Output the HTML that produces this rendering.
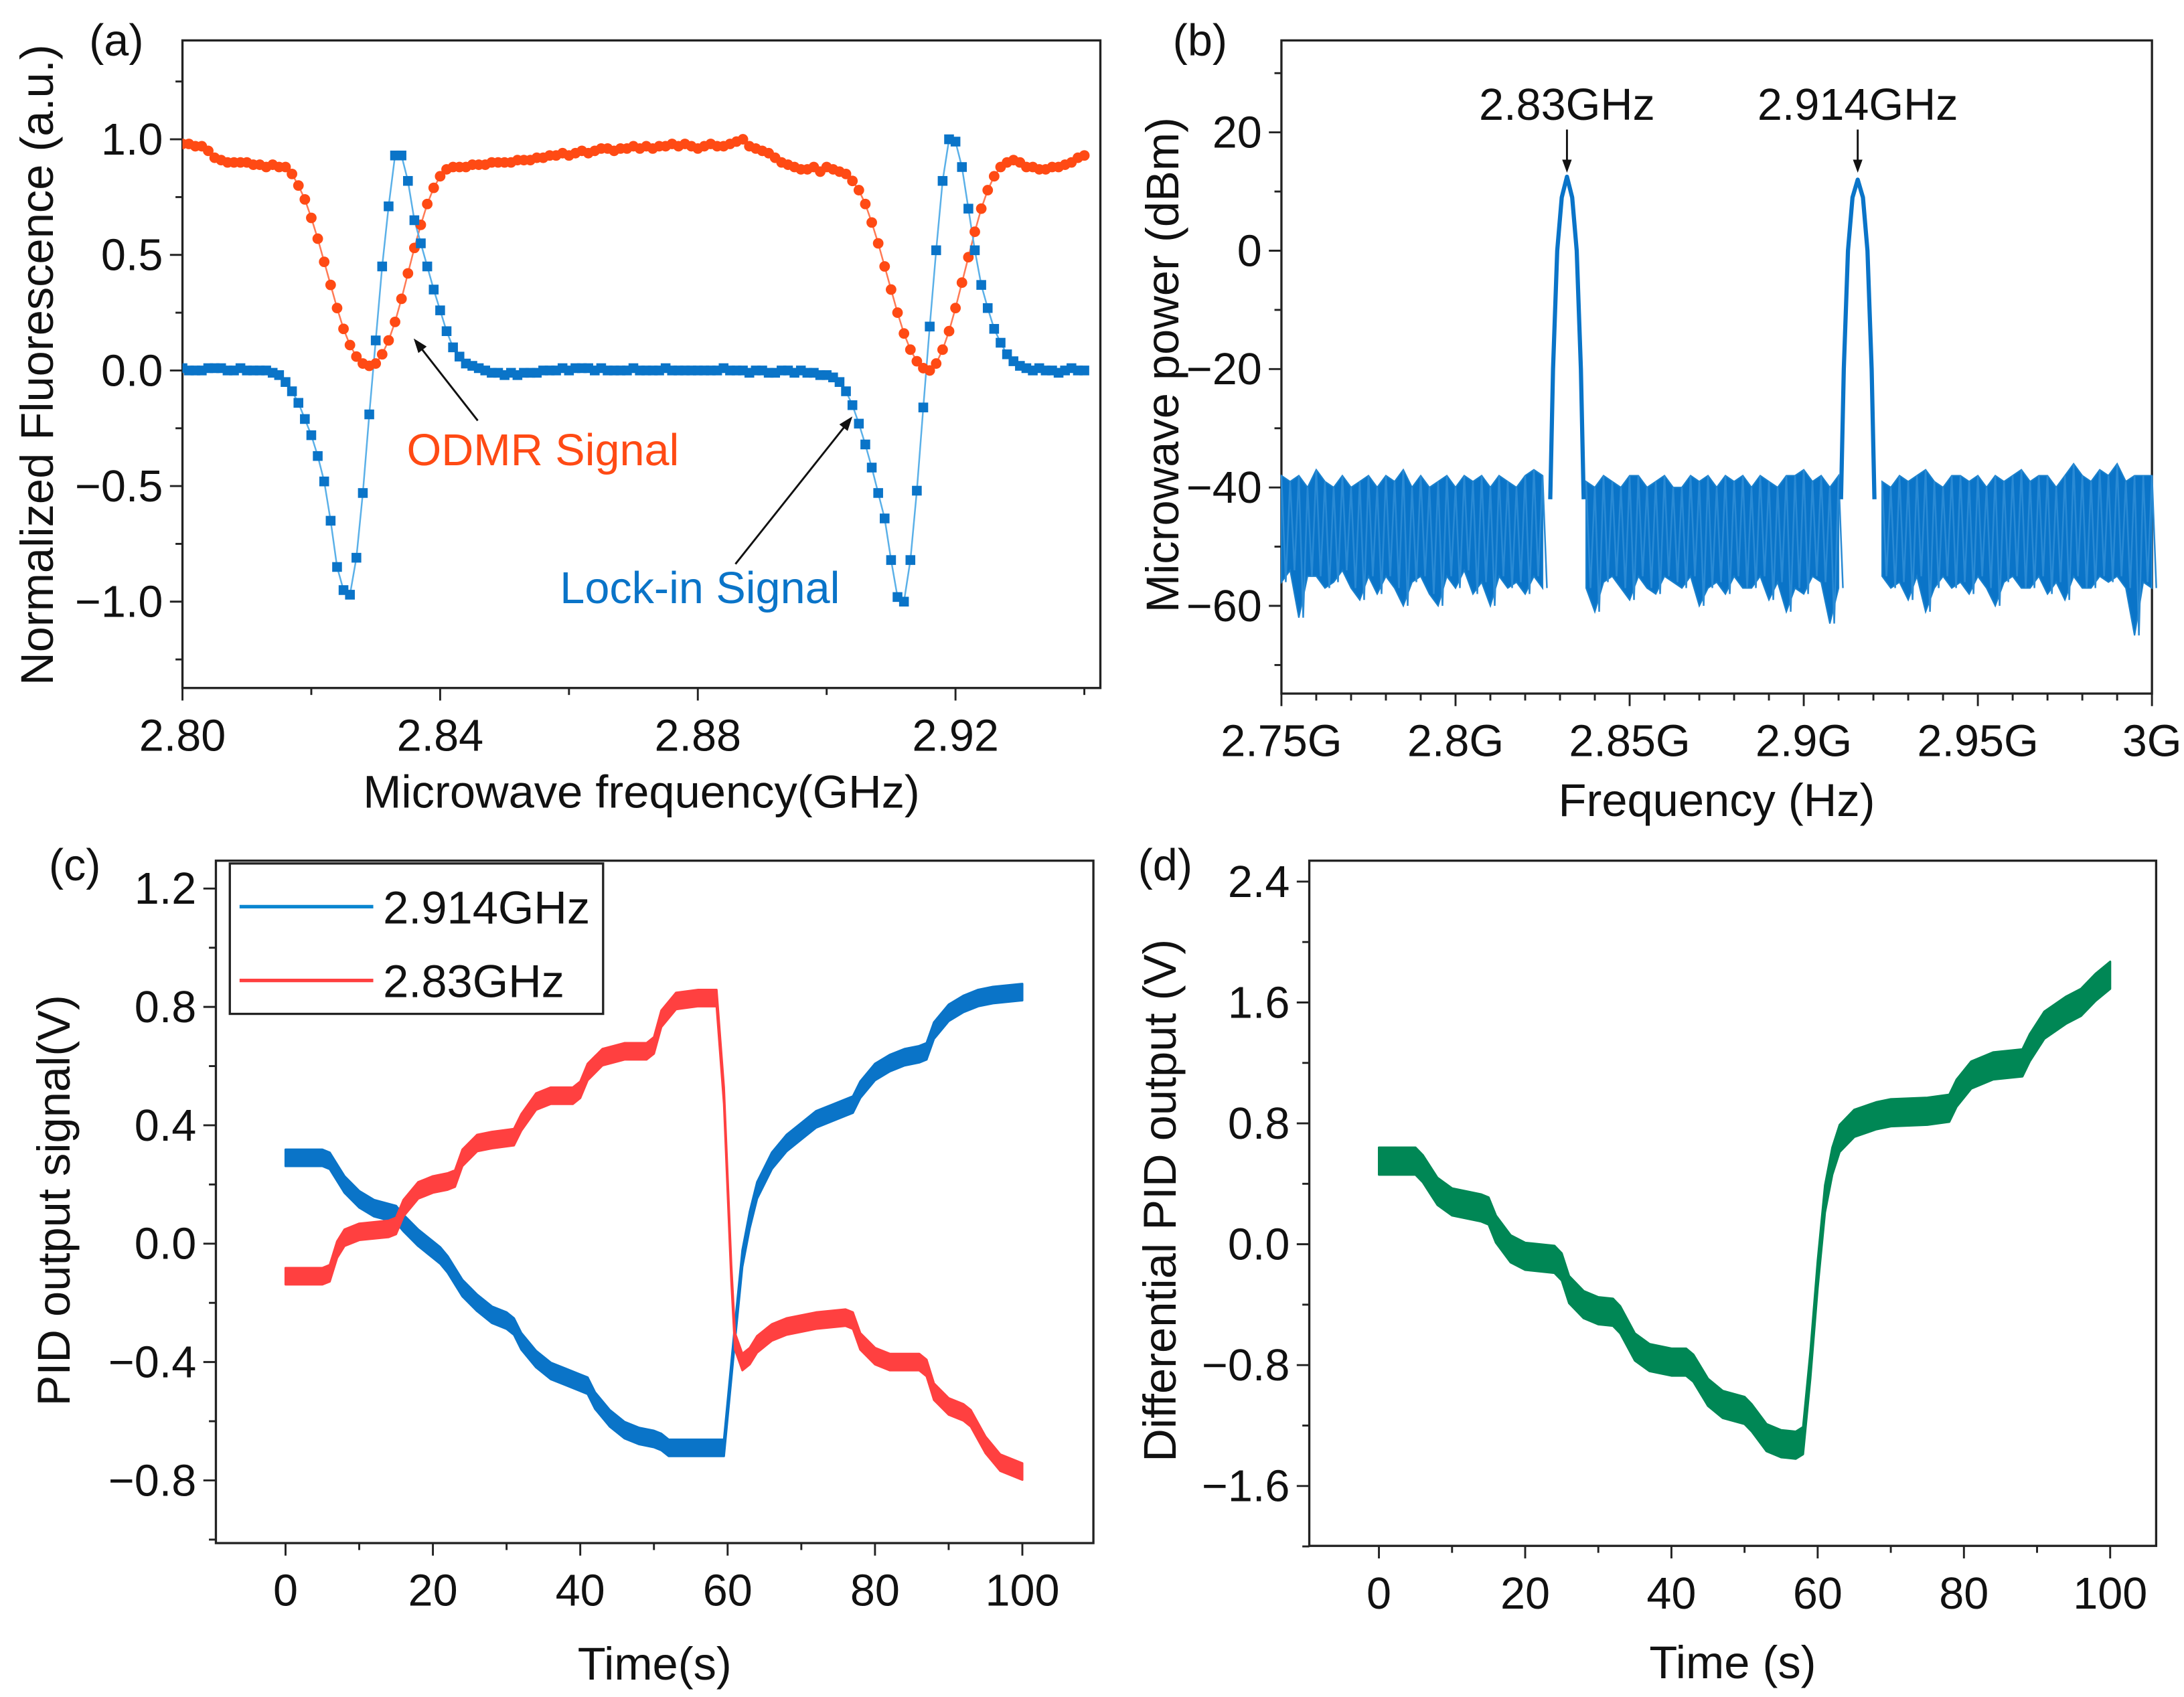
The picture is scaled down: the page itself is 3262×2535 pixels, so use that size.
<!DOCTYPE html>
<html><head><meta charset="utf-8"><style>
html,body{margin:0;padding:0;background:#fff}
svg{display:block;font-family:"Liberation Sans",sans-serif}
</style></head><body>
<svg id="fig" xmlns="http://www.w3.org/2000/svg" width="3262" height="2535" viewBox="0 0 1568 1218.5">
<rect x="0" y="0" width="1568" height="1218.5" fill="#fff"/>
</svg>
<script>
// ---------- Panel (a) data ----------
const freqAStart = 2.800, freqAStep = 0.001;
const odmrValues = [
0.98,0.98,0.97,0.97,0.95,0.92,0.91,0.90,0.90,0.90,
0.90,0.89,0.89,0.88,0.89,0.88,0.88,0.85,0.80,0.74,
0.66,0.57,0.47,0.37,0.27,0.18,0.11,0.06,0.03,0.02,
0.03,0.07,0.13,0.21,0.31,0.42,0.53,0.63,0.72,0.79,
0.84,0.87,0.88,0.88,0.88,0.89,0.89,0.89,0.90,0.90,
0.90,0.90,0.91,0.91,0.91,0.92,0.92,0.93,0.93,0.94,
0.93,0.94,0.95,0.94,0.95,0.96,0.96,0.95,0.96,0.96,
0.97,0.96,0.97,0.96,0.97,0.97,0.98,0.97,0.98,0.97,
0.96,0.97,0.98,0.97,0.97,0.98,0.99,1.00,0.97,0.96,
0.95,0.94,0.92,0.90,0.89,0.88,0.87,0.87,0.88,0.86,
0.88,0.87,0.86,0.85,0.82,0.78,0.72,0.64,0.55,0.45,
0.35,0.25,0.16,0.09,0.04,0.01,0.00,0.03,0.09,0.17,
0.27,0.38,0.49,0.60,0.70,0.78,0.84,0.88,0.90,0.91,
0.90,0.88,0.88,0.87,0.87,0.88,0.88,0.89,0.90,0.92,
0.93];
const lockinValues = [
0.01,0.00,0.00,0.00,0.01,0.01,0.01,0.00,0.00,0.01,
0.00,0.00,0.00,0.00,-0.01,-0.02,-0.05,-0.09,-0.14,-0.21,
-0.28,-0.37,-0.48,-0.65,-0.85,-0.95,-0.97,-0.81,-0.53,-0.19,
0.13,0.45,0.71,0.93,0.93,0.82,0.65,0.55,0.45,0.35,
0.26,0.17,0.10,0.06,0.03,0.02,0.01,0.00,-0.01,-0.01,
-0.02,-0.01,-0.02,-0.01,-0.01,-0.01,0.00,0.00,0.00,0.01,
0.00,0.01,0.01,0.01,0.00,0.01,0.00,0.00,0.00,0.00,
0.01,0.00,0.00,0.00,0.00,0.01,0.00,0.00,0.00,0.00,
0.00,0.00,0.00,0.00,0.01,0.00,0.00,0.00,-0.01,0.00,
0.00,-0.01,-0.01,0.00,0.00,-0.01,0.00,-0.01,-0.01,-0.02,
-0.02,-0.03,-0.05,-0.09,-0.15,-0.23,-0.32,-0.42,-0.53,-0.64,
-0.82,-0.98,-1.00,-0.82,-0.52,-0.16,0.19,0.52,0.82,1.00,
0.99,0.88,0.70,0.52,0.37,0.27,0.18,0.12,0.07,0.04,
0.02,0.01,0.00,0.01,0.00,0.00,-0.01,0.00,0.01,0.00,
0.00];
const ticksAX = [2.80,2.84,2.88,2.92];
const ticksAXLabels = ["2.80","2.84","2.88","2.92"];
const ticksAY = [1.0,0.5,0.0,-0.5,-1.0];
const ticksAYLabels = ["1.0","0.5","0.0","\u22120.5","\u22121.0"];

// ---------- Panel (b) data ----------
const noiseStart = 2.75, noiseStep = 0.0025;
const noiseTop = [
-38,-39,-38,-40,-37,-39,-40,-38,-40,-39,-38,-40,-38,-39,-37,-40,-38,-40,-39,-38,
-40,-38,-39,-38,-40,-38,-39,-40,-38,-37,-38,-40,-39,-38,-38,-39,-40,-38,-39,-40,
-38,-38,-40,-39,-38,-40,-40,-38,-39,-38,-40,-38,-39,-38,-40,-38,-39,-40,-38,-38,
-37,-39,-38,-40,-38,-38,-39,-40,-38,-39,-40,-38,-39,-38,-37,-39,-40,-38,-38,-39,
-38,-40,-38,-39,-38,-37,-39,-38,-38,-40,-38,-36,-38,-39,-37,-38,-36,-39,-38,-38,-38];
const noiseBottom = [
-56,-54,-62,-55,-55,-57,-56,-54,-57,-59,-55,-58,-55,-57,-60,-56,-55,-58,-60,-55,
-57,-54,-58,-56,-60,-55,-57,-56,-58,-55,-57,-55,-56,-55,-58,-57,-61,-56,-55,-57,
-59,-55,-57,-58,-55,-56,-57,-55,-60,-57,-56,-58,-55,-57,-57,-55,-59,-56,-61,-57,
-58,-55,-56,-63,-57,-55,-57,-56,-58,-55,-57,-56,-59,-55,-61,-57,-55,-57,-56,-58,
-55,-57,-60,-56,-55,-57,-57,-55,-58,-56,-59,-55,-57,-57,-55,-56,-55,-57,-65,-56,-57];
const peakCenters = [2.832, 2.9155];
const peakOffsets = [-0.0048,-0.004,-0.0028,-0.0015,0,0.0015,0.0028,0.004,0.0048];
const peak1Vals = [-42,-20,0,9,12.5,9,0,-20,-42];
const peak2Vals = [-42,-20,0,9,12,9,0,-20,-42];
const ticksBX = [2.75,2.80,2.85,2.90,2.95,3.00];
const ticksBXLabels = ["2.75G","2.8G","2.85G","2.9G","2.95G","3G"];
const ticksBY = [20,0,-20,-40,-60];
const ticksBYLabels = ["20","0","\u221220","\u221240","\u221260"];

// ---------- Panel (c) data ----------
const timeBlue = [0,5,6,8,10,12,15,16,18,20,21,22,24,26,28,30,31,32,34,36,38,40,41,42,44,46,48,50,51,52,55,59.5,61,62,63,64,66,68,70,72,74,76,77,78,80,82,84,86,87,88,90,92,94,96,100];
const valBlue = [0.29,0.29,0.28,0.20,0.15,0.12,0.10,0.07,0.02,-0.02,-0.04,-0.07,-0.15,-0.20,-0.24,-0.26,-0.28,-0.33,-0.39,-0.43,-0.45,-0.47,-0.48,-0.53,-0.59,-0.63,-0.65,-0.66,-0.67,-0.69,-0.69,-0.69,-0.30,-0.05,0.08,0.18,0.28,0.34,0.38,0.42,0.44,0.46,0.47,0.52,0.58,0.61,0.63,0.64,0.65,0.72,0.78,0.81,0.83,0.84,0.85];
const timeRed = [0,5,6,7,8,10,14,15,16,18,20,22,23,24,26,28,31,32,34,36,39,40,41,43,46,49,50,51,53,56,58.5,59.5,60.5,61,62,63,64,66,68,72,76,77,78,80,82,86,87,88,90,92,93,95,97,100];
const valRed = [-0.11,-0.11,-0.10,-0.02,0.02,0.04,0.05,0.06,0.12,0.18,0.20,0.21,0.22,0.29,0.34,0.35,0.36,0.41,0.48,0.50,0.50,0.52,0.58,0.63,0.65,0.65,0.67,0.76,0.82,0.83,0.83,0.50,-0.10,-0.33,-0.40,-0.38,-0.34,-0.30,-0.28,-0.26,-0.25,-0.26,-0.33,-0.38,-0.40,-0.40,-0.42,-0.50,-0.55,-0.57,-0.59,-0.68,-0.74,-0.77];
const ticksCX = [0,20,40,60,80,100];
const ticksCY = [1.2,0.8,0.4,0.0,-0.4,-0.8];
const ticksCYLabels = ["1.2","0.8","0.4","0.0","\u22120.4","\u22120.8"];

// ---------- Panel (d) data ----------
const timeGreen = [0,5,6,8,10,14,15,16,18,20,24,25,26,28,30,32,33,35,37,40,42,43,45,47,50,51,53,55,57,58,59,60,61,62,63,65,68,70,75,78,79,81,84,88,89,91,94,96,98,100];
const valGreen = [0.55,0.55,0.50,0.35,0.28,0.24,0.22,0.10,-0.03,-0.08,-0.10,-0.15,-0.30,-0.40,-0.44,-0.45,-0.50,-0.68,-0.75,-0.78,-0.78,-0.82,-0.98,-1.06,-1.10,-1.15,-1.28,-1.32,-1.33,-1.30,-0.80,-0.20,0.30,0.55,0.70,0.80,0.85,0.87,0.88,0.90,1.00,1.12,1.18,1.20,1.30,1.45,1.55,1.60,1.70,1.78];
const ticksDY = [2.4,1.6,0.8,0.0,-0.8,-1.6];
const ticksDYLabels = ["2.4","1.6","0.8","0.0","\u22120.8","\u22121.6"];

const NS = "http://www.w3.org/2000/svg";
const svg = document.getElementById('fig');
function mk(tag, attrs, parent){
  const e = document.createElementNS(NS, tag);
  for (const k in attrs) e.setAttribute(k, attrs[k]);
  (parent||svg).appendChild(e);
  return e;
}
function lin(d0,d1,r0,r1){ return v => r0 + (v-d0)/(d1-d0)*(r1-r0); }

function axes(p){
  const g = mk('g', {});
  
  
  const box = mk('rect', {x:p.l, y:p.t, width:p.r-p.l, height:p.b-p.t, fill:'none', stroke:'#222', 'stroke-width':1.6}, g);
  
  
  for (let v = p.xmin0; v <= p.xmax0 + 1e-9; v += p.xminor) {
    const x = p.sx(v);
    if (x < p.l - 0.5 || x > p.r + 0.5) continue;
    const major = p.xt.some(t => Math.abs(t - v) < p.xminor/10);
    const tk = mk('line', {x1:x, x2:x, y1:p.b, y2:p.b + (major?9:5), stroke:'#222', 'stroke-width':1.4}, g);
    
    
  }
  p.xt.forEach((v,i) => {
    const t = mk('text', {x:p.sx(v), y:p.b + 45, 'text-anchor':'middle', 'font-size':32, fill:'#111'}, g);
    t.textContent = p.xl[i];
    
    
  });
  for (let v = p.ymin0; v <= p.ymax0 + 1e-9; v += p.yminor) {
    const y = p.sy(v);
    if (y < p.t - 0.5 || y > p.b + 0.5) continue;
    const major = p.yt.some(t => Math.abs(t - v) < p.yminor/10);
    const tk = mk('line', {x1:p.l, x2:p.l - (major?9:5), y1:y, y2:y, stroke:'#222', 'stroke-width':1.4}, g);
    
    
  }
  p.yt.forEach((v,i) => {
    const t = mk('text', {x:p.l - 14, y:p.sy(v) + 11, 'text-anchor':'end', 'font-size':32, fill:'#111'}, g);
    t.textContent = p.yl[i];
    
    
  });
  const xt = mk('text', {x:(p.l+p.r)/2, y:p.xtitleY, 'text-anchor':'middle', 'font-size':33, fill:'#111'}, g);
  xt.textContent = p.xtitle;
  
  
  const yt = mk('text', {x:0, y:0, 'text-anchor':'middle', 'font-size':33, fill:'#111', transform:`translate(${p.ytitleX},${p.ytitleCY}) rotate(-90)`}, g);
  yt.textContent = p.ytitle;
  
  
  const pl = mk('text', {x:p.lblX, y:p.lblY, 'font-size':32, fill:'#111'}, g);
  pl.textContent = p.label;
  
  
}
function arrowHead(x1,y1,x2,y2,color,size,parent){
  const a = Math.atan2(y2-y1, x2-x1);
  const p1 = [x2 - size*Math.cos(a-0.35), y2 - size*Math.sin(a-0.35)];
  const p2 = [x2 - size*Math.cos(a+0.35), y2 - size*Math.sin(a+0.35)];
  return mk('polygon', {points:`${x2},${y2} ${p1[0]},${p1[1]} ${p2[0]},${p2[1]}`, fill:color}, parent);
}

// ================= Panel (a) =================
{
  const P = {name:'panel-a', l:131, r:790, t:29, b:494};
  P.sx = lin(2.80, 2.92, 131, 686);
  P.sy = lin(-1.0, 1.0, 432, 100);
  Object.assign(P, {xt:ticksAX, xl:ticksAXLabels, yt:ticksAY, yl:ticksAYLabels, xmin0:2.80, xmax0:2.95, xminor:0.02, ymin0:-1.5, ymax0:1.5, yminor:0.25,
    xtitle:'Microwave frequency(GHz)', xtitleY:580, ytitle:'Normalized Fluorescence (a.u.)', ytitleX:38, ytitleCY:262, label:'(a)', lblX:64, lblY:40});
  axes(P);
  const cp = mk('clipPath', {id:'clipA'}); mk('rect', {x:131, y:29, width:659, height:465}, cp);
  const g = mk('g', {'clip-path':'url(#clipA)'});
  
  
  const ptsR = odmrValues.map((v,i) => [P.sx(freqAStart + i*freqAStep), P.sy(v)]);
  const ptsB = lockinValues.map((v,i) => [P.sx(freqAStart + i*freqAStep), P.sy(v)]);
  const lr = mk('polyline', {points:ptsR.map(p=>p.join(',')).join(' '), fill:'none', stroke:'#ff7a55', 'stroke-width':1.2}, g);
  
  
  const lb = mk('polyline', {points:ptsB.map(p=>p.join(',')).join(' '), fill:'none', stroke:'#5ab0e8', 'stroke-width':1.2}, g);
  
  
  ptsR.forEach(p => {
    const c = mk('circle', {cx:p[0], cy:p[1], r:3.8, fill:'#ff4a14'}, g);
    
    
  });
  ptsB.forEach(p => {
    const s = mk('rect', {x:p[0]-3.5, y:p[1]-3.5, width:7, height:7, fill:'#0a74c8'}, g);
    
    
  });
  const t1 = mk('text', {x:292, y:334, 'font-size':32, fill:'#ff4a14'});
  t1.textContent = 'ODMR Signal';
  
  
  const t2 = mk('text', {x:402, y:433, 'font-size':32, fill:'#0a74c8'});
  t2.textContent = 'Lock-in Signal';
  
  
  const a1 = mk('line', {x1:343, y1:302, x2:300, y2:247, stroke:'#111', 'stroke-width':1.4});
  
  
  const h1 = arrowHead(343,302,297,243,'#111',11);
  
  
  const a2 = mk('line', {x1:528, y1:405, x2:609, y2:303, stroke:'#111', 'stroke-width':1.4});
  
  
  const h2 = arrowHead(528,405,612,299,'#111',11);
  
  
}

// ================= Panel (b) =================
{
  const P = {name:'panel-b', l:920, r:1545, t:29, b:498};
  P.sx = lin(2.75, 3.0, 920, 1545);
  P.sy = lin(-60, 20, 435, 95);
  Object.assign(P, {xt:ticksBX, xl:ticksBXLabels, yt:ticksBY, yl:ticksBYLabels, xmin0:2.75, xmax0:3.0, xminor:0.01, ymin0:-70, ymax0:30, yminor:10,
    xtitle:'Frequency (Hz)', xtitleY:586, ytitle:'Microwave power (dBm)', ytitleX:846, ytitleCY:262, label:'(b)', lblX:842, lblY:40});
  axes(P);
  const g = mk('g', {});
  
  
  const gaps = peakCenters.map(c => [c-0.0045, c+0.0045]);
  let seg = [], segs = [];
  noiseTop.forEach((v,i) => {
    const f = noiseStart + i*noiseStep;
    if (gaps.some(gp => f > gp[0] && f < gp[1])) { if (seg.length) segs.push(seg); seg = []; return; }
    seg.push(i);
  });
  if (seg.length) segs.push(seg);
  const half = (P.sx(2.75 + noiseStep) - P.sx(2.75)) / 2;
  segs.forEach(s => {
    const top = [], bot = [], zig = [];
    s.forEach(i => {
      const x = P.sx(noiseStart + i*noiseStep);
      top.push(`${x},${P.sy(noiseTop[i])}`);
      bot.unshift(`${x},${P.sy(noiseBottom[i])}`);
      zig.push(`${x},${P.sy(noiseTop[i])}`);
      zig.push(`${x + half},${P.sy(noiseBottom[i])}`);
    });
    const poly = mk('polygon', {points:top.concat(bot).join(' '), fill:'#0a74c8', stroke:'#1a80cc', 'stroke-width':1}, g);
    
    
    const zz = mk('polyline', {points:zig.join(' '), fill:'none', stroke:'#2a8ad4', 'stroke-width':1.2}, g);
    
    
  });
  [peak1Vals, peak2Vals].forEach((vals, k) => {
    const pts = vals.map((v,i) => `${P.sx(peakCenters[k] + peakOffsets[i])},${P.sy(v)}`).join(' ');
    const pk = mk('polyline', {points:pts, fill:'none', stroke:'#0a74c8', 'stroke-width':3, 'stroke-linejoin':'round'}, g);
    
    
  });
  const labels = ['2.83GHz','2.914GHz'];
  peakCenters.forEach((c,k) => {
    const x = P.sx(c);
    const t = mk('text', {x:x, y:86, 'text-anchor':'middle', 'font-size':32, fill:'#111'});
    t.textContent = labels[k];
    
    
    const ln = mk('line', {x1:x, x2:x, y1:93, y2:118, stroke:'#111', 'stroke-width':1.4});
    
    
    const hd = arrowHead(x,93,x,124,'#111',10);
    
    
  });
}

function band(ts, vs, sx, sy, h, color, name){
  const top = ts.map((t,i) => `${sx(t)},${sy(vs[i]+h)}`);
  const bot = ts.map((t,i) => `${sx(t)},${sy(vs[i]-h)}`).reverse();
  const p = mk('polygon', {points:top.concat(bot).join(' '), fill:color, stroke:color, 'stroke-width':1.5, 'stroke-linejoin':'round'});
  
  
}

// ================= Panel (c) =================
{
  const P = {name:'panel-c', l:155, r:785, t:618, b:1108};
  P.sx = lin(0, 100, 205, 734);
  P.sy = lin(-0.8, 1.2, 1063, 638);
  Object.assign(P, {xt:ticksCX, xl:ticksCX.map(String), yt:ticksCY, yl:ticksCYLabels, xmin0:-10, xmax0:110, xminor:10, ymin0:-1.0, ymax0:1.3, yminor:0.2,
    xtitle:'Time(s)', xtitleY:1206, ytitle:'PID output signal(V)', ytitleX:50, ytitleCY:862, label:'(c)', lblX:35, lblY:632});
  axes(P);
  band(timeBlue, valBlue, P.sx, P.sy, 0.028, '#0a74c8', 'series-2914ghz');
  band(timeRed, valRed, P.sx, P.sy, 0.028, '#ff4040', 'series-283ghz');
  const lg = mk('g', {});
  
  
  const lb = mk('rect', {x:165, y:620, width:268, height:108, fill:'#fff', stroke:'#222', 'stroke-width':1.6}, lg);
  
  
  [['#0a86d0','2.914GHz',651],['#ff4040','2.83GHz',704]].forEach(e => {
    const l = mk('line', {x1:172, x2:268, y1:e[2], y2:e[2], stroke:e[0], 'stroke-width':2.5}, lg);
    
    
    const t = mk('text', {x:275, y:e[2]+12, 'font-size':33, fill:'#111'}, lg);
    t.textContent = e[1];
    
    
  });
}

// ================= Panel (d) =================
{
  const P = {name:'panel-d', l:940, r:1548, t:618, b:1110};
  P.sx = lin(0, 100, 990, 1515);
  P.sy = lin(-1.6, 2.4, 1067, 633);
  Object.assign(P, {xt:ticksCX, xl:ticksCX.map(String), yt:ticksDY, yl:ticksDYLabels, xmin0:-10, xmax0:110, xminor:10, ymin0:-2.0, ymax0:2.6, yminor:0.4,
    xtitle:'Time (s)', xtitleY:1205, ytitle:'Differential PID output (V)', ytitleX:844, ytitleCY:862, label:'(d)', lblX:817, lblY:632});
  axes(P);
  band(timeGreen, valGreen, P.sx, P.sy, 0.09, '#008755', 'series-differential');
}
</script>
</body></html>
